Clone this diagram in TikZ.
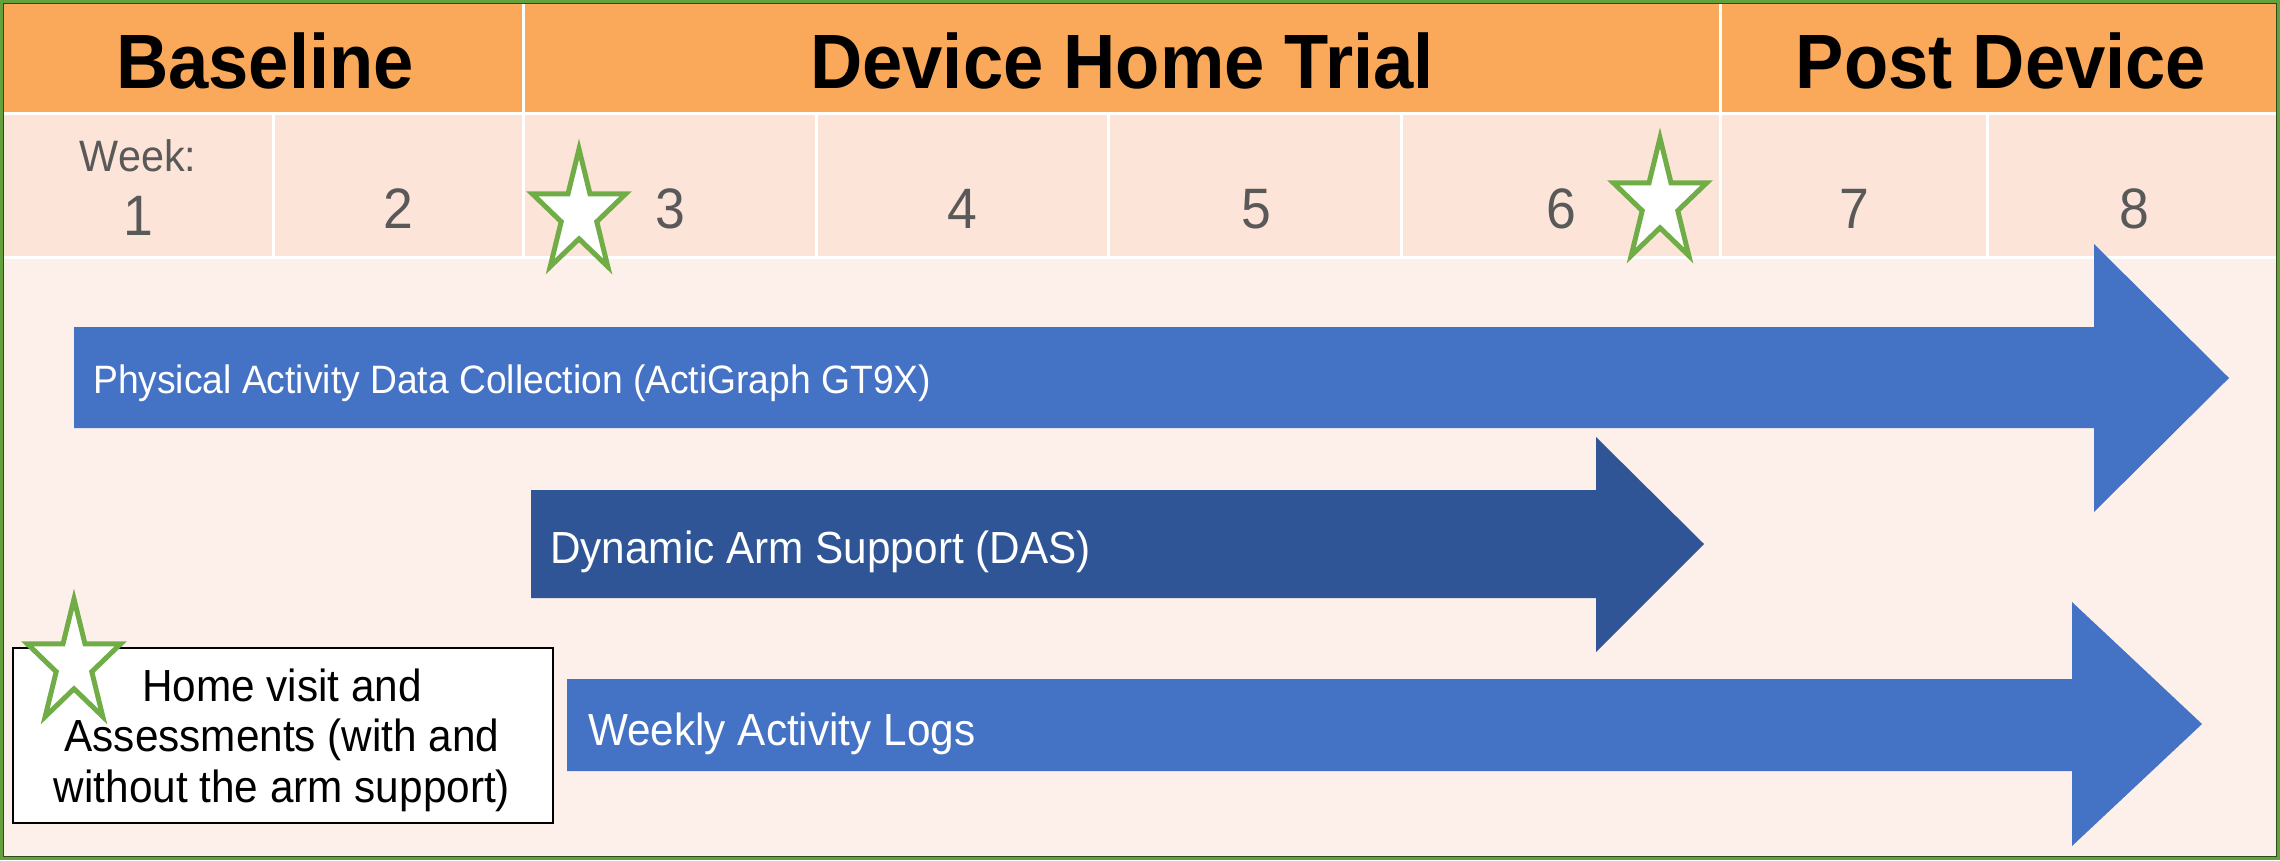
\documentclass[tikz,border=0pt]{standalone}
\usepackage{fontspec}
\setmainfont{Liberation Sans}[FakeStretch=0.94]
\definecolor{headorange}{HTML}{FAA85A}
\definecolor{weekpeach}{HTML}{FDE4D8}
\definecolor{bodypeach}{HTML}{FDF0EA}
\definecolor{arrowblue}{HTML}{4472C4}
\definecolor{dasblue}{HTML}{2F5597}
\definecolor{stargreen}{HTML}{70AD47}
\definecolor{weekgray}{HTML}{595959}
\definecolor{framegreen}{HTML}{64A03C}
\definecolor{framedark}{HTML}{2E4A1C}
\tikzset{
  sep/.style={white, line width=3pt},
  phase/.style={anchor=base, inner sep=0pt, font=\fontsize{77}{77}\selectfont\bfseries},
  weeknum/.style={anchor=base, inner sep=0pt, text=weekgray, font=\fontsize{57}{57}\selectfont},
  barlabel/.style={anchor=base west, inner sep=0pt, text=white},
  boxline/.style={anchor=base, inner sep=0pt, font=\fontsize{45}{51}\selectfont},
  starline/.style={draw=stargreen, fill=white, line width=5pt, line join=miter},
  gstar/.pic={\draw[starline] (0,-65) -- (11.0,-20.1) -- (46.6,-20.1) -- (17.8,7.7)
      -- (28.8,52.6) -- (0,24.8) -- (-28.8,52.6) -- (-17.8,7.7) -- (-46.6,-20.1)
      -- (-11.0,-20.1) -- cycle;}
}
\begin{document}
\begin{tikzpicture}[x=1pt, y=-1pt]
\useasboundingbox (0,0) rectangle (2280,860);

% background bands
\fill[bodypeach] (0,0) rectangle (2280,860);
\fill[headorange] (0,0) rectangle (2280,113);
\fill[weekpeach] (0,113) rectangle (2280,257);

% cell separators
\draw[sep] (0,113) -- (2280,113);
\draw[sep] (0,257) -- (2280,257);
\foreach \xx in {523,1720} \draw[sep] (\xx,0) -- (\xx,113);
\foreach \xx in {273,523,816,1108,1401,1720,1987} \draw[sep] (\xx,113) -- (\xx,257);

% phase titles
\node[phase] (pbase) at (265,88) {Baseline};
\node[phase] (ptrial) at (1122,88) {Device Home Trial};
\node[phase] (ppost) at (2001,88) {Post Device};

% week numbers
\node[weeknum, font=\fontsize{44}{44}\selectfont] (wlabel) at (138,171) {Week:};
\node[weeknum] (w1) at (138,235) {1};
\node[weeknum] (w2) at (398,228) {2};
\node[weeknum] (w3) at (670,228) {3};
\node[weeknum] (w4) at (962,228) {4};
\node[weeknum] (w5) at (1256,228) {5};
\node[weeknum] (w6) at (1561,228) {6};
\node[weeknum] (w7) at (1854,228) {7};
\node[weeknum] (w8) at (2134,228) {8};

% activity bars
\fill[arrowblue] (74,327) -- (2094,327) -- (2094,244) -- (2229,378) -- (2094,512)
  -- (2094,428) -- (74,428) -- cycle;
\fill[dasblue] (531,490) -- (1596,490) -- (1596,437) -- (1704,544) -- (1596,652)
  -- (1596,598) -- (531,598) -- cycle;
\fill[arrowblue] (567,679) -- (2072,679) -- (2072,602) -- (2202,724) -- (2072,846)
  -- (2072,771) -- (567,771) -- cycle;

\node[barlabel, font=\fontsize{39.6}{39.6}\selectfont] (lpa) at (93,393)
  {Physical Activity Data Collection (ActiGraph GT9X)};
\node[barlabel, font=\fontsize{45}{45}\selectfont] (ldas) at (550,563)
  {Dynamic Arm Support (DAS)};
\node[barlabel, font=\fontsize{45}{45}\selectfont] (llog) at (588,745)
  {Weekly Activity Logs};

% home visit box
\node[draw=black, line width=2pt, fill=white, minimum width=540pt,
  minimum height=175pt, inner sep=0pt] (visit) at (283,735.5) {};
\node[boxline] (v1) at (282,701) {Home visit and};
\node[boxline] (v2) at (282,751) {Assessments (with and};
\node[boxline] (v3) at (282,802) {without the arm support)};

% assessment stars
\pic at (579,214) {gstar};
\pic at (1660,203) {gstar};
\pic at (74,664) {gstar};

% frame
\draw[framegreen, line width=3pt] (1.5,1.5) rectangle (2278.5,858.5);
\draw[framedark, line width=1.2pt] (3.6,3.6) rectangle (2276.4,856.4);
\end{tikzpicture}
\end{document}
